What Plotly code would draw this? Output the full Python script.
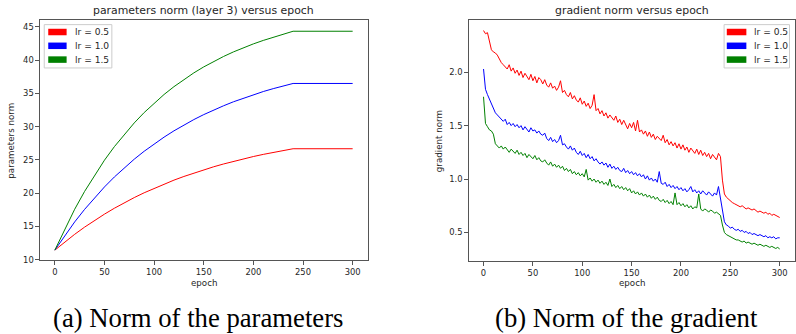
import plotly.graph_objects as go

W, H = 796, 334

# ---------------- data ----------------
series_names = ["lr = 0.5", "lr = 1.0", "lr = 1.5"]
series_colors = ["#ff0000", "#0000ff", "#008000"]

param_epochs = [0, 10, 20, 30, 40, 50, 60, 70, 80, 90, 100, 110, 120, 130, 140,
                150, 160, 170, 180, 190, 200, 210, 220, 230, 240, 300]
param_lr05 = [11.45, 12.68, 13.83, 14.91, 15.92, 16.86, 17.75, 18.57, 19.35, 20.07,
              20.74, 21.38, 21.97, 22.52, 23.04, 23.52, 23.98, 24.40, 24.80, 25.17,
              25.52, 25.84, 26.14, 26.43, 26.69, 26.69]
param_lr10 = [11.45, 13.65, 15.69, 17.58, 19.33, 20.95, 22.45, 23.84, 25.12, 26.31,
              27.41, 28.43, 29.38, 30.26, 31.07, 31.82, 32.51, 33.15, 33.75, 34.30,
              34.81, 35.29, 35.72, 36.13, 36.50, 36.50]
param_lr15 = [11.45, 14.66, 17.60, 20.28, 22.73, 24.97, 27.01, 28.87, 30.57, 32.13,
              33.54, 34.84, 36.02, 37.10, 38.09, 38.99, 39.81, 40.56, 41.25, 41.87,
              42.45, 42.97, 43.44, 43.88, 44.35, 44.35]

grad_epochs = list(range(0, 301, 2))
grad_lr05 = [2.39, 2.36, 2.37, 2.30, 2.21, 2.19, 2.18, 2.16, 2.12, 2.09,
             2.07, 2.05, 2.03, 2.07, 2.01, 2.04, 1.99, 2.02, 1.97, 2.01,
             1.95, 1.99, 1.96, 1.93, 1.98, 1.92, 1.96, 1.90, 1.95, 1.93,
             1.89, 1.93, 1.88, 1.86, 1.90, 1.85, 1.87, 1.83, 1.86, 1.92,
             1.81, 1.83, 1.79, 1.77, 1.81, 1.75, 1.78, 1.74, 1.72, 1.76,
             1.70, 1.73, 1.68, 1.71, 1.66, 1.69, 1.79, 1.64, 1.66, 1.61,
             1.64, 1.59, 1.62, 1.57, 1.60, 1.58, 1.55, 1.59, 1.53, 1.56,
             1.51, 1.55, 1.50, 1.47, 1.52, 1.48, 1.53, 1.45, 1.55, 1.44,
             1.46, 1.42, 1.45, 1.40, 1.44, 1.39, 1.42, 1.37, 1.40, 1.38,
             1.36, 1.41, 1.34, 1.37, 1.32, 1.35, 1.31, 1.34, 1.29, 1.33,
             1.28, 1.32, 1.27, 1.30, 1.25, 1.29, 1.26, 1.24, 1.28, 1.23,
             1.27, 1.22, 1.25, 1.21, 1.24, 1.19, 1.23, 1.20, 1.18, 1.24,
             1.21, 0.99, 0.86, 0.83, 0.81, 0.80, 0.78, 0.77, 0.76, 0.75,
             0.74, 0.75, 0.73, 0.72, 0.73, 0.72, 0.71, 0.72, 0.70, 0.69,
             0.70, 0.69, 0.68, 0.69, 0.67, 0.68, 0.66, 0.67, 0.66, 0.65,
             0.64]
grad_lr10 = [2.03, 1.84, 1.79, 1.75, 1.70, 1.66, 1.62, 1.60, 1.58, 1.55,
             1.54, 1.56, 1.51, 1.53, 1.50, 1.52, 1.49, 1.51, 1.48, 1.50,
             1.46, 1.49, 1.47, 1.44, 1.48, 1.45, 1.46, 1.43, 1.45, 1.42,
             1.41, 1.43, 1.38, 1.36, 1.39, 1.35, 1.37, 1.34, 1.36, 1.41,
             1.32, 1.33, 1.30, 1.28, 1.31, 1.27, 1.29, 1.25, 1.23, 1.26,
             1.22, 1.24, 1.20, 1.23, 1.19, 1.21, 1.17, 1.19, 1.16, 1.14,
             1.16, 1.13, 1.15, 1.11, 1.14, 1.10, 1.12, 1.09, 1.11, 1.08,
             1.07, 1.10, 1.06, 1.08, 1.05, 1.07, 1.04, 1.06, 1.03, 1.05,
             1.02, 1.04, 1.00, 1.03, 0.99, 1.01, 0.98, 1.00, 0.97, 1.07,
             0.96, 0.95, 0.97, 0.93, 0.95, 0.92, 0.94, 0.91, 0.93, 0.90,
             0.92, 0.89, 0.91, 0.88, 0.90, 0.93, 0.88, 0.90, 0.87, 0.89,
             0.86, 0.89, 0.87, 0.85, 0.88, 0.86, 0.84, 0.87, 0.85, 0.93,
             0.83, 0.70, 0.60, 0.57, 0.56, 0.54, 0.55, 0.53, 0.52, 0.53,
             0.51, 0.52, 0.50, 0.51, 0.49, 0.50, 0.48, 0.49, 0.48, 0.47,
             0.48, 0.47, 0.46, 0.47, 0.45, 0.46, 0.45, 0.46, 0.44, 0.45,
             0.45]
grad_lr15 = [1.77, 1.52, 1.49, 1.46, 1.45, 1.42, 1.33, 1.31, 1.29, 1.31,
             1.28, 1.30, 1.27, 1.25, 1.28, 1.26, 1.24, 1.27, 1.23, 1.25,
             1.22, 1.24, 1.20, 1.23, 1.21, 1.19, 1.22, 1.18, 1.20, 1.17,
             1.16, 1.18, 1.15, 1.13, 1.16, 1.12, 1.14, 1.11, 1.13, 1.10,
             1.12, 1.08, 1.10, 1.07, 1.09, 1.05, 1.07, 1.04, 1.06, 1.03,
             1.05, 1.02, 1.09, 0.99, 1.01, 0.98, 1.00, 0.97, 0.99, 0.96,
             0.98, 0.95, 0.97, 0.94, 1.00, 0.93, 0.95, 0.92, 0.94, 0.91,
             0.93, 0.90, 0.92, 0.89, 0.91, 0.87, 0.89, 0.86, 0.88, 0.85,
             0.87, 0.84, 0.86, 0.83, 0.85, 0.82, 0.84, 0.81, 0.83, 0.80,
             0.79, 0.81, 0.78, 0.80, 0.77, 0.79, 0.76, 0.87, 0.76, 0.78,
             0.75, 0.77, 0.74, 0.76, 0.73, 0.75, 0.72, 0.74, 0.73, 0.86,
             0.72, 0.70, 0.72, 0.71, 0.69, 0.71, 0.70, 0.68, 0.69, 0.67,
             0.66, 0.57, 0.50, 0.48, 0.47, 0.46, 0.45, 0.44, 0.43, 0.43,
             0.42, 0.41, 0.42, 0.40, 0.41, 0.40, 0.39, 0.40, 0.39, 0.38,
             0.39, 0.38, 0.37, 0.38, 0.37, 0.36, 0.37, 0.36, 0.35, 0.36,
             0.345]

x_ticks = [0, 50, 100, 150, 200, 250, 300]
left_y_ticks = [10, 15, 20, 25, 30, 35, 40, 45]
right_y_ticks = [0.5, 1.0, 1.5, 2.0]

titles = ["parameters norm (layer 3) versus epoch", "gradient norm versus epoch"]
ylabels = ["parameters norm", "gradient norm"]
xlabel = "epoch"
captions = ["(a) Norm of the parameters", "(b) Norm of the gradient"]

# ---------------- helpers (pixel -> paper) ----------------
def px(x):
    return x / W

def py(y):
    return 1 - y / H

SANS = "DejaVu Sans"
TXT = "#262626"

# axes boxes in pixels
L = dict(x0=40, x1=368, y0=20.7, y1=264)
R = dict(x0=469.3, x1=795.5, y0=20.7, y1=265)

fig = go.Figure()

for vals, name, col in zip([param_lr05, param_lr10, param_lr15], series_names, series_colors):
    fig.add_trace(go.Scatter(x=param_epochs, y=vals, mode="lines", name=name,
                             line=dict(color=col, width=1.0), xaxis="x", yaxis="y",
                             showlegend=False))
for vals, name, col in zip([grad_lr05, grad_lr10, grad_lr15], series_names, series_colors):
    fig.add_trace(go.Scatter(x=grad_epochs, y=vals, mode="lines", name=name,
                             line=dict(color=col, width=1.0), xaxis="x2", yaxis="y2",
                             showlegend=False))

axis_common = dict(showline=True, mirror=True, linecolor="#555555", linewidth=1,
                   ticks="outside", ticklen=3.5, tickwidth=1, tickcolor="#555555",
                   showgrid=False, zeroline=False,
                   tickfont=dict(family=SANS, size=8.4, color=TXT))

fig.update_layout(
    width=W, height=H,
    margin=dict(l=0, r=0, t=0, b=0),
    paper_bgcolor="white", plot_bgcolor="white",
    showlegend=False,
    xaxis=dict(domain=[px(L["x0"]), px(L["x1"])], range=[-15, 315],
               tickvals=x_ticks, anchor="y", **axis_common),
    yaxis=dict(domain=[py(L["y1"]), py(L["y0"])], range=[9.96, 45.98],
               tickvals=left_y_ticks, anchor="x", **axis_common),
    xaxis2=dict(domain=[px(R["x0"]), px(R["x1"])], range=[-15, 315],
                tickvals=x_ticks, anchor="y2", **axis_common),
    yaxis2=dict(domain=[py(R["y1"]), py(R["y0"])], range=[0.2325, 2.485],
                tickvals=right_y_ticks, tickformat=".1f", anchor="x2", **axis_common),
)

ann = []
shapes = []
for box, title, ylab, cap, ylab_x in zip([L, R], titles, ylabels, captions, [11.5, 439]):
    cx = (box["x0"] + box["x1"]) / 2
    cy = (box["y0"] + box["y1"]) / 2
    ann.append(dict(text=title, x=px(cx), y=py(11), xref="paper", yref="paper",
                    xanchor="center", yanchor="middle", showarrow=False,
                    font=dict(family=SANS, size=10.9, color=TXT)))
    ann.append(dict(text=xlabel, x=px(cx), y=py(287.5), xref="paper", yref="paper",
                    xanchor="center", yanchor="middle", showarrow=False,
                    font=dict(family=SANS, size=8.7, color=TXT)))
    ann.append(dict(text=ylab, x=px(ylab_x), y=py(cy), xref="paper", yref="paper",
                    xanchor="center", yanchor="middle", showarrow=False, textangle=-90,
                    font=dict(family=SANS, size=8.7, color=TXT)))
    ann.append(dict(text=cap, x=px(198 if box is L else 627.5), y=py(322.5), xref="paper", yref="paper",
                    xanchor="center", yanchor="middle", showarrow=False,
                    font=dict(family="Liberation Serif", size=26.7, color="black")))

# legends (matplotlib-style patch legends)
for lx0, lx1, patch_x0, patch_x1, text_x in [(44.3, 112, 48.3, 66.7, 73.3),
                                             (725, 790.5, 727.7, 747.3, 753.3)]:
    shapes.append(dict(type="rect", xref="paper", yref="paper",
                       x0=px(lx0), x1=px(lx1), y0=py(69), y1=py(25),
                       line=dict(color="#cccccc", width=1), fillcolor="rgba(255,255,255,0.85)",
                       layer="above"))
    for i, (name, col) in enumerate(zip(series_names, series_colors)):
        rowy = 32.5 + i * 14
        shapes.append(dict(type="rect", xref="paper", yref="paper",
                           x0=px(patch_x0), x1=px(patch_x1), y0=py(rowy + 3.3), y1=py(rowy - 3.3),
                           line=dict(width=0), fillcolor=col, layer="above"))
        ann.append(dict(text=name, x=px(text_x), y=py(rowy), xref="paper", yref="paper",
                        xanchor="left", yanchor="middle", showarrow=False,
                        font=dict(family=SANS, size=9.1, color=TXT)))

fig.update_layout(annotations=ann, shapes=shapes)
fig.write_html("out.html", config={"displayModeBar": False},
               post_script="document.body.style.margin='0';document.body.style.overflow='hidden';")
